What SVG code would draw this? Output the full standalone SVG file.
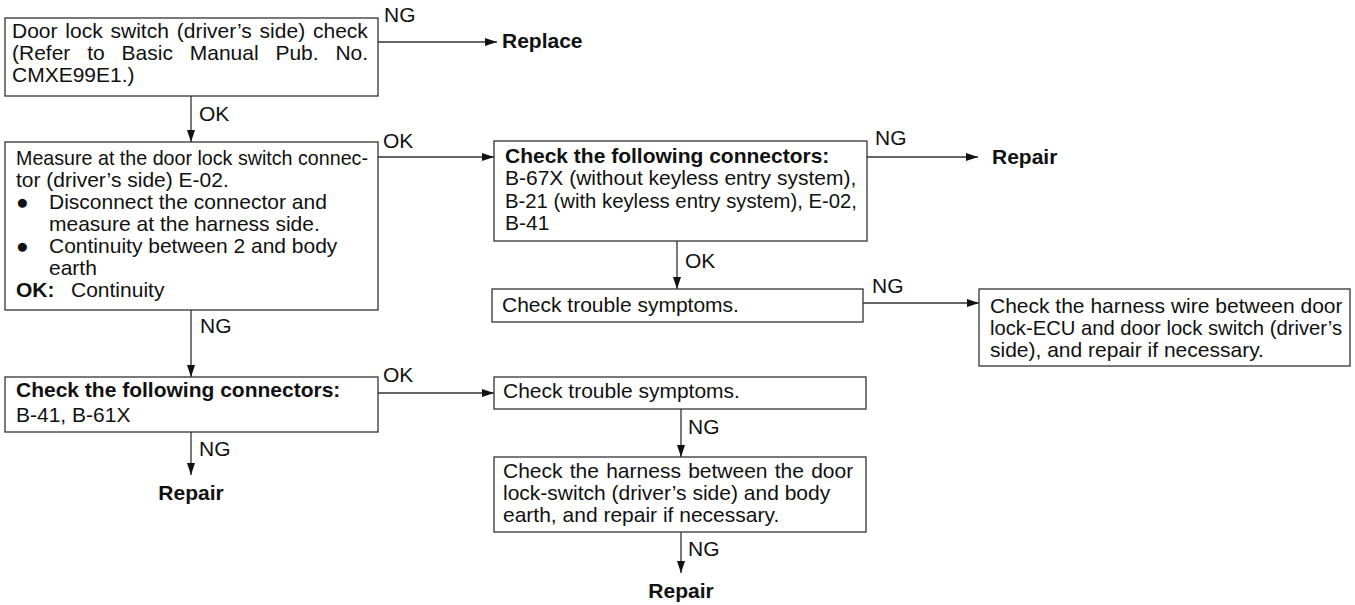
<svg xmlns="http://www.w3.org/2000/svg" width="1355" height="605" viewBox="0 0 1355 605">
  <style>
    .box { fill: #ffffff; stroke: #333333; stroke-width: 1.3; }
    .line { fill: none; stroke: #333333; stroke-width: 1.3; }
    text { font-family: "Liberation Sans", Arial, Helvetica, sans-serif; font-size: 21px; fill: #111111; }
    .b { font-weight: bold; }
  </style>
  <defs>
    <marker id="arrow" viewBox="0 0 12 8" refX="12" refY="4" markerWidth="12" markerHeight="8" markerUnits="userSpaceOnUse" orient="auto">
      <path d="M0,0 L12,4 L0,8 Z" fill="#111111"/>
    </marker>
  </defs>

  <rect width="1355" height="605" fill="#ffffff"/>

  <!-- connectors -->
  <g id="connectors">
    <line class="line" x1="378" y1="42" x2="497" y2="42" marker-end="url(#arrow)"/>
    <text x="384" y="22">NG</text>
    <line class="line" x1="191" y1="96" x2="191" y2="142" marker-end="url(#arrow)"/>
    <text x="199" y="121">OK</text>
    <line class="line" x1="378" y1="157" x2="494" y2="157" marker-end="url(#arrow)"/>
    <text x="383" y="148">OK</text>
    <line class="line" x1="867" y1="157" x2="978" y2="157" marker-end="url(#arrow)"/>
    <text x="875" y="145">NG</text>
    <line class="line" x1="677" y1="241" x2="677" y2="289" marker-end="url(#arrow)"/>
    <text x="685" y="268">OK</text>
    <line class="line" x1="863" y1="303" x2="979" y2="303" marker-end="url(#arrow)"/>
    <text x="872" y="293">NG</text>
    <line class="line" x1="191" y1="310" x2="191" y2="377" marker-end="url(#arrow)"/>
    <text x="200" y="333">NG</text>
    <line class="line" x1="378" y1="393" x2="494" y2="393" marker-end="url(#arrow)"/>
    <text x="383" y="382">OK</text>
    <line class="line" x1="191" y1="432" x2="191" y2="475" marker-end="url(#arrow)"/>
    <text x="199" y="456">NG</text>
    <line class="line" x1="681" y1="409" x2="681" y2="457" marker-end="url(#arrow)"/>
    <text x="688" y="434">NG</text>
    <line class="line" x1="681" y1="532" x2="681" y2="573" marker-end="url(#arrow)"/>
    <text x="688" y="556">NG</text>
  </g>

  <!-- terminal results -->
  <g id="result-replace"><text class="b" x="502" y="48">Replace</text></g>
  <g id="result-repair-1"><text class="b" x="992" y="164">Repair</text></g>
  <g id="result-repair-2"><text class="b" x="191" y="500" text-anchor="middle">Repair</text></g>
  <g id="result-repair-3"><text class="b" x="681" y="598" text-anchor="middle">Repair</text></g>

  <!-- switch check -->
  <g id="node-switch-check">
    <rect class="box" x="5" y="18" width="373" height="78"/>
    <text x="12" y="38" word-spacing="2">Door lock switch (driver’s side) check</text>
    <text x="12" y="60" word-spacing="11">(Refer to Basic Manual Pub. No.</text>
    <text x="12" y="82">CMXE99E1.)</text>
  </g>

  <!-- measure at connector -->
  <g id="node-measure">
    <rect class="box" x="5" y="142" width="373" height="168"/>
    <text x="16" y="165" textLength="352" lengthAdjust="spacingAndGlyphs">Measure at the door lock switch connec-</text>
    <text x="16" y="187">tor (driver’s side) E-02.</text>
    <text x="16" y="209">●</text>
    <text x="49" y="209">Disconnect the connector and</text>
    <text x="49" y="231">measure at the harness side.</text>
    <text x="16" y="253">●</text>
    <text x="49" y="253">Continuity between 2 and body</text>
    <text x="49" y="275">earth</text>
    <text class="b" x="16" y="297">OK:</text>
    <text x="71" y="297">Continuity</text>
  </g>

  <!-- connectors check (upper) -->
  <g id="node-connectors-a">
    <rect class="box" x="494" y="141" width="373" height="100"/>
    <text class="b" x="505" y="163">Check the following connectors:</text>
    <text x="505" y="185">B-67X (without keyless entry system),</text>
    <text x="505" y="208" textLength="352" lengthAdjust="spacingAndGlyphs">B-21 (with keyless entry system), E-02,</text>
    <text x="505" y="230">B-41</text>
  </g>

  <!-- trouble symptoms (upper) -->
  <g id="node-symptoms-a">
    <rect class="box" x="492" y="289" width="371" height="33"/>
    <text x="502" y="312">Check trouble symptoms.</text>
  </g>

  <!-- harness wire check -->
  <g id="node-harness-wire">
    <rect class="box" x="979" y="289" width="371" height="77"/>
    <text x="990" y="313">Check the harness wire between door</text>
    <text x="990" y="335" textLength="352" lengthAdjust="spacingAndGlyphs">lock-ECU and door lock switch (driver’s</text>
    <text x="990" y="357">side), and repair if necessary.</text>
  </g>

  <!-- connectors check (lower) -->
  <g id="node-connectors-b">
    <rect class="box" x="5" y="377" width="373" height="55"/>
    <text class="b" x="16" y="397">Check the following connectors:</text>
    <text x="16" y="422">B-41, B-61X</text>
  </g>

  <!-- trouble symptoms (lower) -->
  <g id="node-symptoms-b">
    <rect class="box" x="494" y="377" width="372" height="32"/>
    <text x="503" y="398">Check trouble symptoms.</text>
  </g>

  <!-- harness to body earth -->
  <g id="node-harness-earth">
    <rect class="box" x="494" y="457" width="372" height="75"/>
    <text x="503" y="478" word-spacing="1.4">Check the harness between the door</text>
    <text x="503" y="500">lock-switch (driver’s side) and body</text>
    <text x="503" y="522">earth, and repair if necessary.</text>
  </g>
</svg>
